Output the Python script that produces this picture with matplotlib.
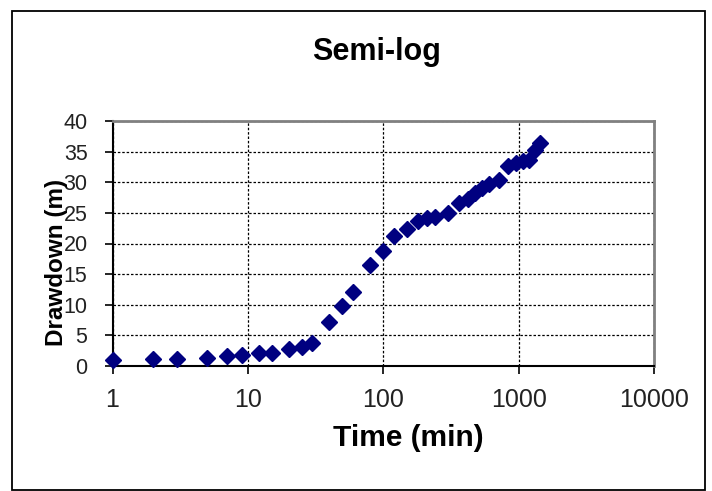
import matplotlib
matplotlib.use("Agg")
import matplotlib.pyplot as plt
from matplotlib.patches import Rectangle

# Data
time_min = [1, 2, 3, 5, 7, 9, 12, 15, 20, 25, 30, 40, 50, 60, 80, 100, 120, 150,
            180, 210, 240, 300, 360, 420, 480, 540, 600, 720, 840, 960, 1080,
            1200, 1320, 1440]
drawdown_m = [0.9, 1.1, 1.1, 1.3, 1.6, 1.8, 2.1, 2.2, 2.8, 3.1, 3.7, 7.2, 9.8,
              12.1, 16.5, 18.8, 21.3, 22.4, 23.6, 24.2, 24.4, 25.0, 26.6, 27.2,
              28.3, 29.0, 29.7, 30.4, 32.6, 33.1, 33.4, 33.7, 35.3, 36.4]
x_ticks = [1, 10, 100, 1000, 10000]
x_tick_labels = ["1", "10", "100", "1000", "10000"]
y_ticks = [0, 5, 10, 15, 20, 25, 30, 35, 40]

plt.rcParams['font.family'] = ['Liberation Sans', 'DejaVu Sans']

W, H = 712, 491
fig = plt.figure(figsize=(W / 100, H / 100), dpi=100)

# outer frame
fig.patches.append(Rectangle((12 / W, 1 - 490 / H), (705 - 12) / W, (490 - 11) / H,
                             transform=fig.transFigure, fill=False,
                             edgecolor='black', linewidth=1.3))

left, right, top, bottom = 112.5, 654, 121, 366
ax = fig.add_axes([left / W, 1 - bottom / H, (right - left) / W, (bottom - top) / H])

ax.plot(time_min, drawdown_m, linestyle='none', marker='D', markersize=8.5,
        color='#000080', clip_on=False, zorder=5)

ax.set_xscale('log')
ax.set_xlim(1, 10000)
ax.set_ylim(0, 40)
ax.set_xticks(x_ticks)
ax.set_xticklabels(x_tick_labels)
ax.xaxis.set_minor_locator(matplotlib.ticker.NullLocator())
ax.set_yticks(y_ticks)

ax.grid(True, which='major', color='black', linestyle=(0, (2, 1.5)), linewidth=0.9)
ax.set_axisbelow(True)

for s in ['top', 'right']:
    ax.spines[s].set_color('#808080')
    ax.spines[s].set_linewidth(2)
for s in ['left', 'bottom']:
    ax.spines[s].set_color('black')
    ax.spines[s].set_linewidth(1.5)

ax.tick_params(axis='both', direction='out', length=6, width=1.2, color='black')
ax.tick_params(axis='x', pad=10, labelsize=18, labelcolor='#222222')
ax.tick_params(axis='y', pad=12, labelsize=15.5, labelcolor='#222222')

fig.text(408 / W, 1 - 438 / H, "Time (min)", fontsize=21.5, fontweight='bold',
         ha='center', va='center')
fig.text(56.5 / W, 1 - 262 / H, "Drawdown (m)", fontsize=17.5, fontweight='bold',
         ha='center', va='center', rotation=90, zorder=10)

fig.text(377 / W, 1 - 52 / H, "Semi-log", fontsize=22,
         fontweight='bold', ha='center', va='center')

fig.savefig("out.png", dpi=100)
